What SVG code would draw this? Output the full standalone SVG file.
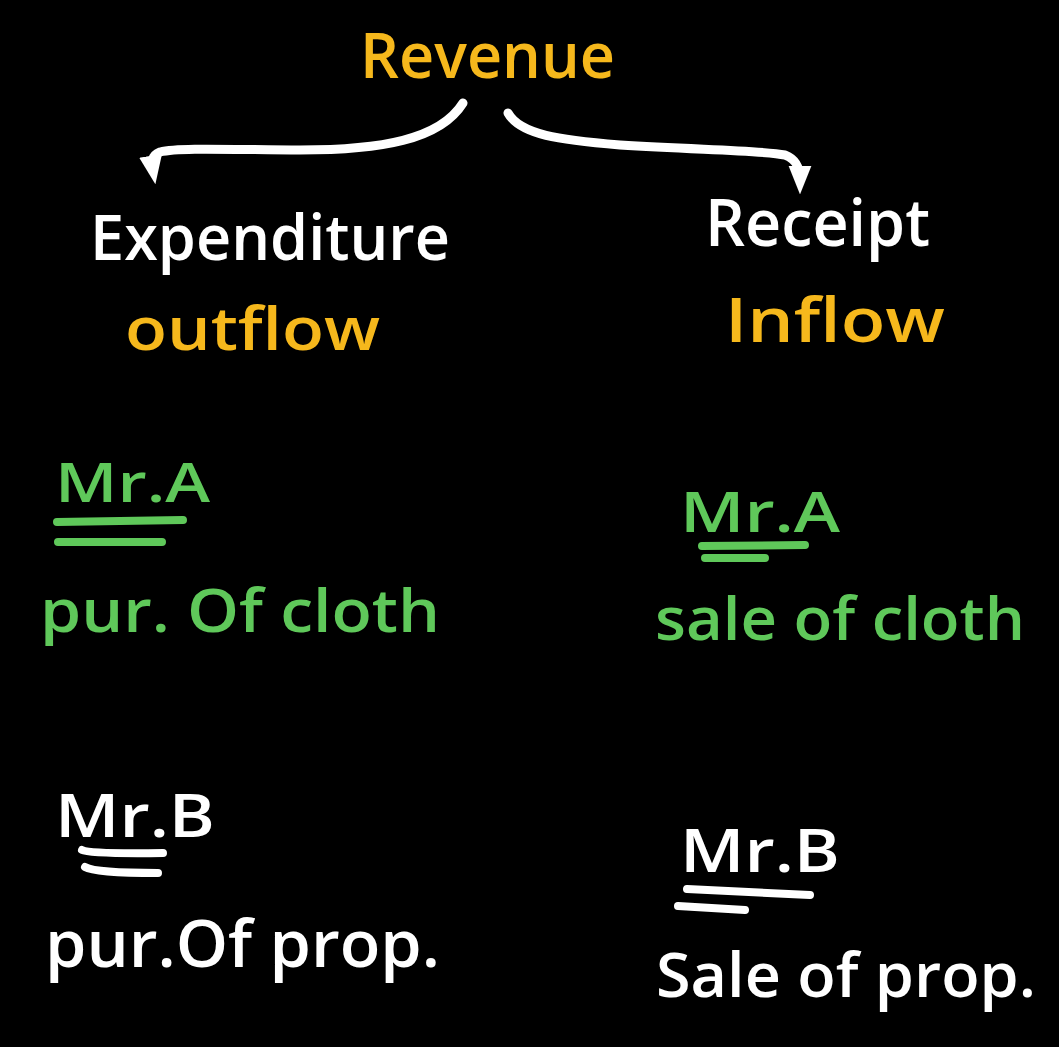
<svg xmlns="http://www.w3.org/2000/svg" width="1059" height="1047" viewBox="0 0 1059 1047">
<defs>
<style>
text{font-family:"Open Sans","DejaVu Sans",sans-serif;font-weight:600;}
.y{fill:#f6b81c;}
.w{fill:#ffffff;}
.g{fill:#5fc85a;}
.conn{fill:none;stroke:#ffffff;stroke-width:9;stroke-linecap:round;}
.ulg{stroke:#5fc85a;stroke-width:8;stroke-linecap:round;fill:none;}
.ulw{stroke:#ffffff;stroke-width:8;stroke-linecap:round;fill:none;}
</style>
<marker id="ah" viewBox="0 0 10 10" refX="5" refY="5" markerWidth="3.2" markerHeight="3.2" orient="auto" markerUnits="strokeWidth">
<path d="M0,1 L10,5 L0,9 Z" fill="#ffffff"/>
</marker>
</defs>
<rect width="1059" height="1047" fill="#000000"/>
<g id="connectors">
<path class="conn" d="M463,103 C440,140 380,150 300,150 C240,150 180,147 160,152 C150,156 152,164 153,170" marker-end="url(#ah)"/>
<path class="conn" d="M508,113 C520,135 560,140 620,145 C700,150 760,150 785,155 C798,160 800,170 800,180" marker-end="url(#ah)"/>
</g>
<g id="revenue"><text class="y" x="360" y="78" font-size="64" textLength="255" lengthAdjust="spacingAndGlyphs">Revenue</text></g>
<g id="expenditure">
<text class="w" x="90" y="260" font-size="64" textLength="360" lengthAdjust="spacingAndGlyphs">Expenditure</text>
<text class="y" x="125" y="350" font-size="60" textLength="255" lengthAdjust="spacingAndGlyphs">outflow</text>
</g>
<g id="receipt">
<text class="w" x="705" y="246" font-size="66" textLength="225" lengthAdjust="spacingAndGlyphs">Receipt</text>
<text class="y" x="725" y="342" font-size="62" textLength="220" lengthAdjust="spacingAndGlyphs">Inflow</text>
</g>
<g id="mrA-left">
<text class="g" x="55" y="502" font-size="54" textLength="155" lengthAdjust="spacingAndGlyphs">Mr.A</text>
<path class="ulg" d="M57,522 L183,520 M58,542 L162,542"/>
<text class="g" x="40" y="632" font-size="60" textLength="400" lengthAdjust="spacingAndGlyphs">pur. Of cloth</text>
</g>
<g id="mrA-right">
<text class="g" x="680" y="532" font-size="56" textLength="160" lengthAdjust="spacingAndGlyphs">Mr.A</text>
<path class="ulg" d="M702,546 L805,545 M705,558 L765,558"/>
<text class="g" x="655" y="640" font-size="60" textLength="370" lengthAdjust="spacingAndGlyphs">sale of cloth</text>
</g>
<g id="mrB-left">
<text class="w" x="55" y="837" font-size="60" textLength="160" lengthAdjust="spacingAndGlyphs">Mr.B</text>
<path class="ulw" d="M82,850 Q90,854 163,853 M85,867 Q95,873 158,873"/>
<text class="w" x="45" y="967" font-size="66" textLength="395" lengthAdjust="spacingAndGlyphs">pur.Of prop.</text>
</g>
<g id="mrB-right">
<text class="w" x="680" y="872" font-size="60" textLength="160" lengthAdjust="spacingAndGlyphs">Mr.B</text>
<path class="ulw" d="M687,889 L810,895 M678,906 L745,910"/>
<text class="w" x="656" y="997" font-size="62" textLength="380" lengthAdjust="spacingAndGlyphs">Sale of prop.</text>
</g>
</svg>
